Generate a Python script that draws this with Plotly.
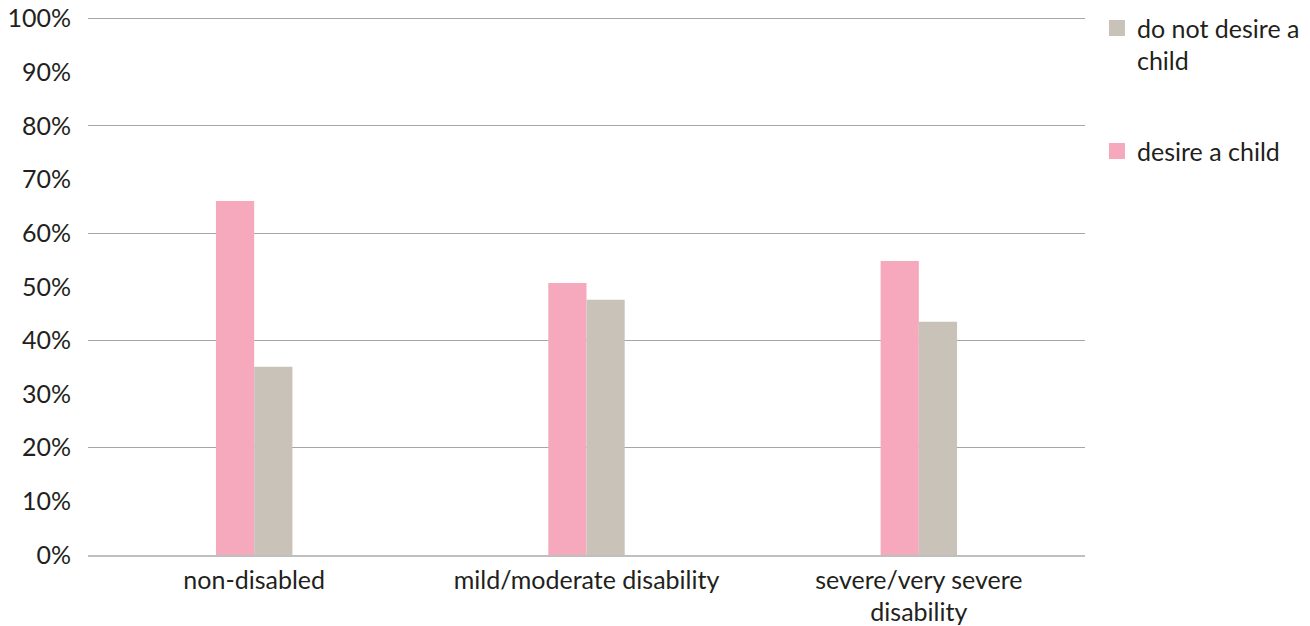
import plotly.graph_objects as go

categories = ["non-disabled", "mild/moderate disability", "severe/very severe<br>disability"]
desire = [0.66, 0.507, 0.548]
not_desire = [0.351, 0.476, 0.435]
series_names = ["desire a child", "do not desire a<br>child"]
colors = ["#F6A9BC", "#C9C2B8"]
ytick_vals = [i / 10 for i in range(11)]
ytick_text = [f"{i*10}%" for i in range(11)]
grid_vals = [i / 5 for i in range(6)]

FONT = "Lato"
YR = [0, 1.005]

fig = go.Figure()
fig.add_trace(go.Bar(x=categories, y=desire, name=series_names[0],
                     marker=dict(color=colors[0], line=dict(width=0)),
                     showlegend=False))
fig.add_trace(go.Bar(x=categories, y=not_desire, name=series_names[1],
                     marker=dict(color=colors[1], line=dict(width=0)),
                     showlegend=False))
# legend entries (square swatches)
for nm, col, grp, rank in [(series_names[1], colors[1], "b", 1), (series_names[0], colors[0], "a", 2)]:
    fig.add_trace(go.Scatter(x=[categories[0]], y=[None], mode="markers", name=nm,
                             marker=dict(symbol="square", size=18, color=col),
                             legendgroup=grp, legendrank=rank, hoverinfo="skip"))
# helper trace so the 20% gridline axis is drawn
fig.add_trace(go.Scatter(x=categories, y=[None] * len(categories), yaxis="y2",
                         showlegend=False, hoverinfo="skip", mode="lines"))

fig.update_layout(
    width=1310, height=626,
    margin=dict(l=88, r=225, t=16, b=71, autoexpand=False),
    paper_bgcolor="white", plot_bgcolor="white",
    barmode="group", bargap=0.77, bargroupgap=0,
    font=dict(family=FONT, color="#231f20"),
    xaxis=dict(type="category", showgrid=False, showline=True, linecolor="#bfbfbf",
               linewidth=1.5, ticks="", tickfont=dict(size=25, family=FONT),
               ticklabelstandoff=2, automargin=False, ticklabeloverflow="allow"),
    yaxis=dict(range=YR, tickvals=ytick_vals, ticktext=ytick_text, showgrid=False,
               zeroline=False, showline=False, tickfont=dict(size=25, family=FONT),
               ticklabelstandoff=16, automargin=False, ticklabeloverflow="allow"),
    yaxis2=dict(range=YR, overlaying="y", tickvals=grid_vals, showgrid=True,
                gridcolor="#a6a6a6", gridwidth=1, showticklabels=False,
                zeroline=False, showline=False, automargin=False),
    legend=dict(x=1.012, xanchor="left", y=1.02, yanchor="top",
                traceorder="grouped", tracegroupgap=55, valign="top",
                font=dict(size=25, family=FONT, color="#231f20"),
                itemsizing="trace", itemwidth=30),
    showlegend=True,
)

fig.write_html("out.html", config={"displayModeBar": False},
               post_script="document.body.style.margin='0';")
